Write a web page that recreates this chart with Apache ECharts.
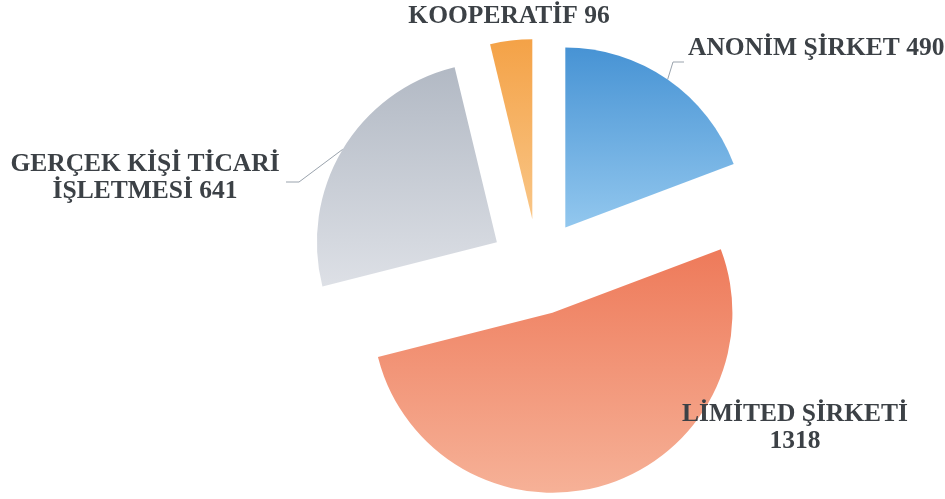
<!DOCTYPE html>
<html>
<head>
<meta charset="utf-8">
<script src="https://cdn.jsdelivr.net/npm/echarts@6/dist/echarts.min.js"></script>
<style>
html,body{margin:0;padding:0;background:#ffffff;}
#chart{width:945px;height:499px;}
</style>
</head>
<body>
<div id="chart"></div>
<script>
// ---- data ----
var categories = ['ANONİM ŞİRKET', 'LİMİTED ŞİRKETİ', 'GERÇEK KİŞİ TİCARİ İŞLETMESİ', 'KOOPERATİF'];
var labelTexts = ['ANONİM ŞİRKET 490', 'LİMİTED ŞİRKETİ\n1318', 'GERÇEK KİŞİ TİCARİ\nİŞLETMESİ 641', 'KOOPERATİF 96'];
var values = [490, 1318, 641, 96];

// ---- styles ----
var gradients = [
  ['#4793d4', '#92c7ee'],
  ['#ee7a5a', '#f6b197'],
  ['#b2b9c4', '#dde0e6'],
  ['#f4a247', '#f9c687']
];
// label placement (pixels): x, y, align, leader points after the slice edge
var labelPlacement = [
  { x: 688, y: 48, align: 'left', line: [[673, 62], [684, 62]] },
  { x: 795, y: 428, align: 'center', line: null },
  { x: 145, y: 178, align: 'center', line: [[299, 182], [286, 182]] },
  { x: 509, y: 16, align: 'center', line: null }
];
var pieCenter = [538, 267];   // px
var pieRadius = 180;          // px
var explodeOffset = 48;       // px

var chart = echarts.init(document.getElementById('chart'), null, { renderer: 'canvas' });

var total = values.reduce(function (a, b) { return a + b; }, 0);
var series = [];
var acc = 0;
values.forEach(function (v, i) {
  var startFrac = acc / total;
  acc += v;
  var endFrac = acc / total;
  var mid = (startFrac + endFrac) / 2 * 2 * Math.PI; // clockwise from top
  var cx = pieCenter[0] + explodeOffset * Math.sin(mid);
  var cy = pieCenter[1] - explodeOffset * Math.cos(mid);
  var spec = labelPlacement[i];
  var data = values.map(function (w, j) {
    if (j !== i) {
      return {
        name: categories[j], value: w,
        itemStyle: { color: 'rgba(0,0,0,0)' },
        label: { show: false }, labelLine: { show: false }
      };
    }
    return {
      name: categories[j], value: w,
      itemStyle: {
        color: {
          type: 'linear', x: 0, y: 0, x2: 0, y2: 1,
          colorStops: [{ offset: 0, color: gradients[j][0] }, { offset: 1, color: gradients[j][1] }]
        }
      },
      label: { show: true, formatter: labelTexts[j] },
      labelLine: { show: !!spec.line }
    };
  });
  series.push({
    type: 'pie',
    silent: true,
    center: [cx, cy],
    radius: pieRadius,
    startAngle: 90,
    clockwise: true,
    avoidLabelOverlap: false,
    itemStyle: { borderWidth: 0 },
    emphasis: { disabled: true },
    label: {
      position: 'outside',
      fontFamily: 'Liberation Serif',
      fontWeight: 'bold',
      fontSize: 25.5,
      lineHeight: 27,
      color: '#3c4146'
    },
    labelLine: { lineStyle: { color: '#9aa3ad', width: 1 } },
    labelLayout: function (p) {
      var out = { x: spec.x, y: spec.y, align: spec.align, verticalAlign: 'middle' };
      if (spec.line && p.labelLinePoints) {
        out.labelLinePoints = [p.labelLinePoints[0]].concat(spec.line);
      }
      return out;
    },
    data: data
  });
});

chart.setOption({
  animation: false,
  backgroundColor: '#ffffff',
  series: series
});
</script>
</body>
</html>
